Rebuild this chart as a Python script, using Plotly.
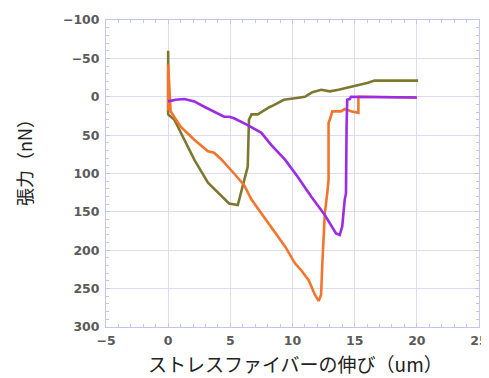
import plotly.graph_objects as go

# Olive series
olive_x = [0, 0, 0.0, 0.5, 1.3, 2.1, 3.2, 4.3, 4.9, 5.6, 5.9, 6.1, 6.4, 6.5, 6.7, 7.2, 7.5, 7.7, 8.1, 8.5, 9.0, 9.3, 10.2, 11.0, 11.3, 11.6, 12.3, 13.0, 13.7, 14.2, 14.7, 15.2, 16.0, 16.6, 20.1]
olive_y = [20, -60, 23, 30, 56, 82, 112, 130, 139, 141, 121, 108, 91, 30, 23, 23, 20, 17, 14, 11, 7, 4, 2, 0, -3, -6, -9, -7, -9, -11, -13, -14, -18, -21, -21]

# Orange series
orange_x = [0, 0, 0.2, 1.0, 2.1, 3.2, 3.7, 4.3, 5.3, 6.1, 6.7, 7.5, 8.3, 9.4, 10.2, 10.7, 11.3, 11.8, 12.1, 12.3, 12.4, 12.6, 12.8, 12.9, 12.9, 13.0, 13.2, 13.9, 14.2, 14.7, 15.3, 15.3, 20.0]
orange_y = [18, -42, 19, 39, 56, 71, 73, 82, 100, 115, 134, 152, 169, 195, 217, 226, 239, 258, 266, 258, 217, 152, 125, 108, 34, 30, 19, 19, 16, 19, 21, 0, 1]

# Purple series
purple_x = [0, 0.6, 1.3, 2.1, 2.9, 3.7, 4.5, 4.9, 5.3, 6.4, 7.5, 8.3, 9.4, 10.4, 11.5, 12.6, 13.5, 13.8, 14.0, 14.2, 14.3, 14.35, 14.4, 14.6, 14.7, 20.0]
purple_y = [6, 4, 3, 6, 13, 19, 26, 26, 28, 37, 47, 63, 82, 104, 130, 154, 178, 180, 169, 134, 126, 39, 4, 3, 0, 1]

x_ticks = [-5, 0, 5, 10, 15, 20, 25]
y_ticks = [-100, -50, 0, 50, 100, 150, 200, 250, 300]

x_title = "ストレスファイバーの伸び（um）"
y_title = "張力（nN）"

fig = go.Figure()
fig.add_trace(go.Scatter(x=olive_x, y=olive_y, mode="lines",
                         line=dict(color="#7d7830", width=2.6)))
fig.add_trace(go.Scatter(x=orange_x, y=orange_y, mode="lines",
                         line=dict(color="#f3752b", width=2.6)))
fig.add_trace(go.Scatter(x=purple_x, y=purple_y, mode="lines",
                         line=dict(color="#9b2be6", width=2.6)))

grid = "#dcdcf2"
axcol = "#c4c4ee"
tickfont = dict(family="DejaVu Sans", size=12.5, color="#5a5a5a", weight="bold")

fig.update_layout(
    width=481, height=370,
    margin=dict(l=98, r=10, t=12, b=51),
    paper_bgcolor="white", plot_bgcolor="white",
    showlegend=False,
    font=dict(family="Noto Sans CJK JP"),
    xaxis=dict(
        range=[-5, 25], tickvals=x_ticks, showgrid=True, gridcolor=grid, gridwidth=1,
        zeroline=False, showline=True, linecolor=axcol, linewidth=1, mirror="ticks",
        ticks="inside", ticklen=4, tickcolor=axcol, tickfont=tickfont, automargin=False,
        ticklabelstandoff=2,
        minor=dict(dtick=1, ticks="inside", ticklen=3, tickcolor=axcol, showgrid=False),
    ),
    yaxis=dict(
        range=[300, -100], tickvals=y_ticks, showgrid=True, gridcolor=grid, gridwidth=1,
        zeroline=False, showline=True, linecolor=axcol, linewidth=1, mirror="ticks",
        ticks="inside", ticklen=4, tickcolor=axcol, tickfont=tickfont, automargin=False,
        ticklabelstandoff=3,
        minor=dict(dtick=10, ticks="inside", ticklen=3, tickcolor=axcol, showgrid=False),
    ),
    annotations=[
        dict(text=x_title, xref="paper", yref="paper", x=0.507, y=-0.12,
             xanchor="center", yanchor="middle", showarrow=False,
             font=dict(family="Noto Sans CJK JP", size=19, color="#222222")),
        dict(text=y_title, xref="paper", yref="paper", x=-0.22, y=0.55,
             xanchor="center", yanchor="middle", showarrow=False, textangle=-90,
             font=dict(family="Noto Sans CJK JP", size=18, color="#222222")),
    ],
)

fig.write_html("out.html")
